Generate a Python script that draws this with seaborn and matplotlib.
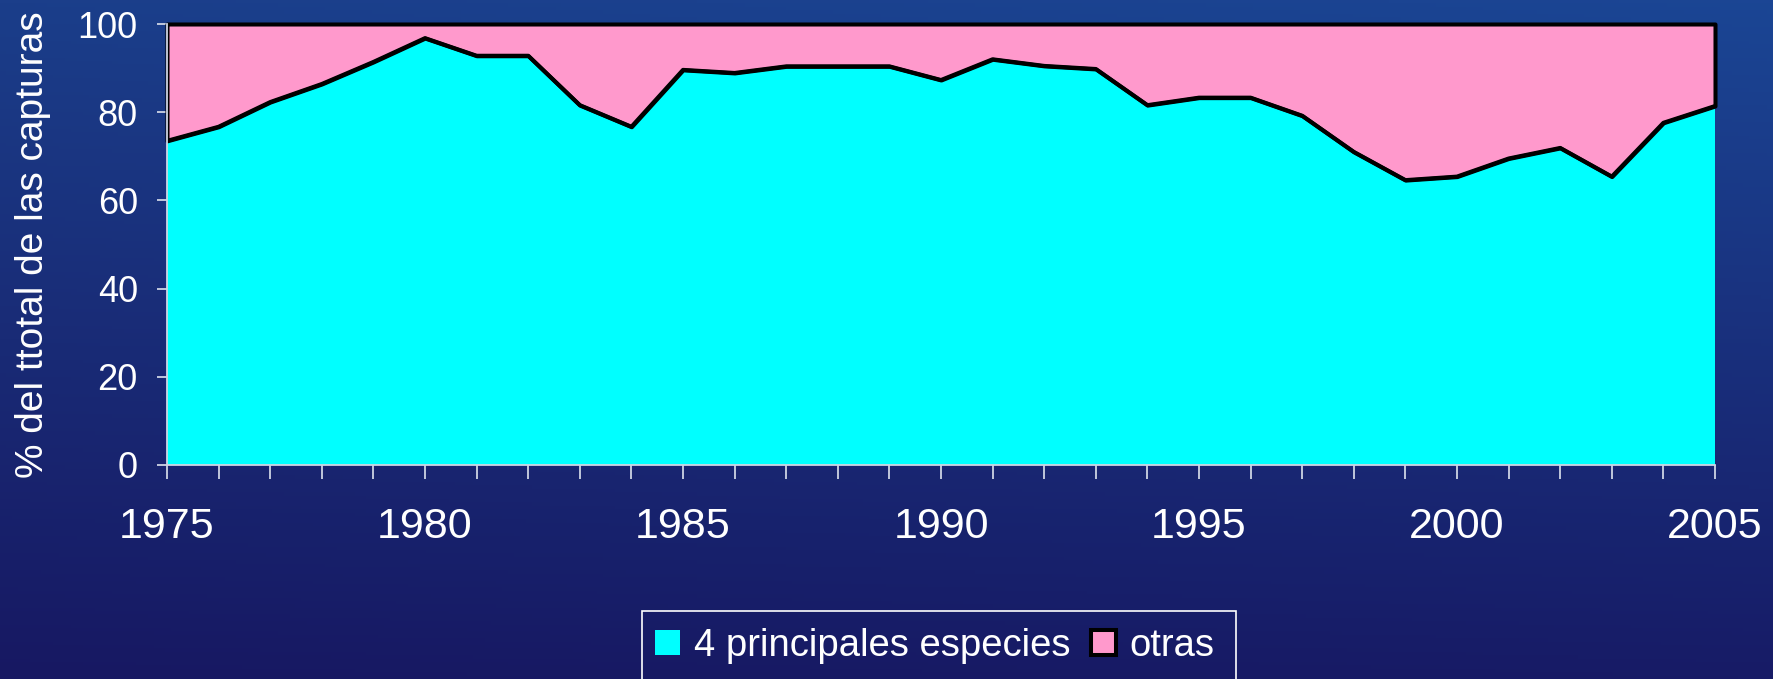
import numpy as np
import pandas as pd
import matplotlib
matplotlib.use("Agg")
import matplotlib.pyplot as plt
import seaborn as sns
from matplotlib.ticker import FixedLocator, MultipleLocator
from matplotlib.patches import Rectangle

# ---- data ----
years = list(range(1975, 2006))
principales = [73.5, 76.7, 82.3, 86.4, 91.4, 96.8, 92.8, 92.8, 81.6, 76.7,
               89.6, 88.9, 90.4, 90.4, 90.4, 87.3, 92.0, 90.5, 89.8, 81.6,
               83.3, 83.3, 79.2, 71.0, 64.6, 65.4, 69.5, 71.9, 65.4, 77.6, 81.4]
otras = [26.5, 23.3, 17.7, 13.6, 8.6, 3.2, 7.2, 7.2, 18.4, 23.3,
         10.4, 11.1, 9.6, 9.6, 9.6, 12.7, 8.0, 9.5, 10.2, 18.4,
         16.7, 16.7, 20.8, 29.0, 35.4, 34.6, 30.5, 28.1, 34.6, 22.4, 18.6]
series_labels = ["4 principales especies", "otras"]
y_ticks = [0, 20, 40, 60, 80, 100]
x_tick_labels = [1975, 1980, 1985, 1990, 1995, 2000, 2005]
y_label = "% del ttotal de las capturas"

df = pd.DataFrame({"year": years, "principales": principales, "otras": otras})

sns.set_theme(style="ticks")
plt.rcParams["font.family"] = ["Liberation Sans", "DejaVu Sans"]

W, H, DPI = 1773, 679, 100
fig = plt.figure(figsize=(W / DPI, H / DPI), dpi=DPI)

# background gradient (dark blue slide background)
bg = fig.add_axes([0, 0, 1, 1], zorder=-10)
yy = np.linspace(0, 1, 200)[:, None]
xx = np.linspace(0, 1, 300)[None, :]
top = np.array([27, 62, 138]) / 255
bot = np.array([23, 24, 98]) / 255
grad = top[None, None, :] * (1 - yy[..., None]) + bot[None, None, :] * yy[..., None]
grad = grad + (xx[..., None] * np.array([0.0, 0.03, 0.04]) * (1 - 0.6 * yy[..., None]))
grad = np.clip(grad, 0, 1)
bg.imshow(grad, aspect="auto", extent=[0, 1, 0, 1], origin="upper")
bg.axis("off")

ax = fig.add_axes([167 / W, 1 - 465 / H, (1715 - 167) / W, (465 - 24) / H])
ax.patch.set_alpha(0)

cyan = "#00FFFF"
pink = "#FF99CC"
polys = ax.stackplot(df["year"], df["principales"], df["otras"],
                     colors=[cyan, pink], labels=series_labels)
polys[0].set_edgecolor("none")
polys[1].set_edgecolor("black")
polys[1].set_linewidth(2.9)
polys[1].set_clip_on(False)
sns.lineplot(data=df, x="year", y="principales", color="black", lw=2.9,
             ax=ax, legend=False)

ax.set_xlim(1975, 2005)
ax.set_ylim(0, 100)

spine_col = "#cdd4e4"
for s in ["top", "right"]:
    ax.spines[s].set_visible(False)
for s in ["left", "bottom"]:
    ax.spines[s].set_color(spine_col)
    ax.spines[s].set_linewidth(1.3)
    ax.spines[s].set_zorder(5)

ax.xaxis.set_major_locator(FixedLocator(x_tick_labels))
ax.xaxis.set_minor_locator(MultipleLocator(1))
ax.set_xticklabels([str(v) for v in x_tick_labels])
ax.tick_params(axis="x", which="both", length=10, width=1.3, color=spine_col,
               direction="out")
ax.tick_params(axis="x", which="major", labelsize=31, labelcolor="white", pad=20)

ax.yaxis.set_major_locator(FixedLocator(y_ticks))
ax.set_yticklabels([str(v) for v in y_ticks])
ax.tick_params(axis="y", which="major", length=7, width=1.3, color=spine_col,
               direction="out", labelsize=26, labelcolor="white", pad=14)

ax.set_xlabel("")
ax.set_ylabel(y_label, fontsize=28, color="white")
ax.yaxis.set_label_coords(-0.075, 0.5)

# legend (frame drawn separately so it runs off the bottom edge like the original)
leg = fig.legend(handles=polys, labels=series_labels, loc="center left",
                 bbox_to_anchor=(642 / W, 1 - 646 / H), bbox_transform=fig.transFigure,
                 ncol=2, fontsize=27.5, frameon=False,
                 handlelength=0.65, handleheight=0.65, handletextpad=0.35,
                 columnspacing=0.55, borderpad=0.35, borderaxespad=0)
for t in leg.get_texts():
    t.set_color("white")
fig.patches.append(Rectangle((642 / W, -0.05), (1236 - 642) / W, 0.05 + (679 - 610.5) / H,
                             transform=fig.transFigure, facecolor="none",
                             edgecolor="white", linewidth=1.2))

fig.savefig("out.png", dpi=DPI)
